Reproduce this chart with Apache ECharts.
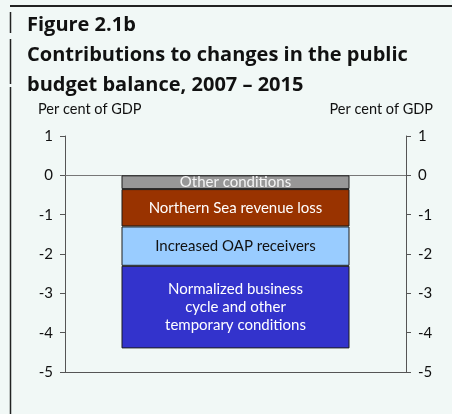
<!DOCTYPE html>
<html>
<head>
<meta charset="utf-8">
<script src="https://cdn.jsdelivr.net/npm/echarts@6/dist/echarts.min.js"></script>
<style>
  html, body { margin: 0; padding: 0; background: #f1f8f6; }
  #chart { width: 452px; height: 414px; }
</style>
</head>
<body>
<div id="chart"></div>
<script>
// Single stacked column: contributions to the change in the public budget balance
const categories = ['2007 – 2015'];
const segmentNames = [
  'Other conditions',
  'Northern Sea revenue loss',
  'Increased OAP receivers',
  'Normalized business cycle and other temporary conditions'
];
const segmentLabels = [
  'Other conditions',
  'Northern Sea revenue loss',
  'Increased OAP receivers',
  'Normalized business\ncycle and other\ntemporary conditions'
];
const segmentValues = [-0.35, -0.95, -1.0, -2.1];
const segmentColors = ['#979797', '#993300', '#99ccff', '#3333cc'];
const segmentTextColors = ['#f4f4f4', '#ffffff', '#111111', '#ffffff'];
const yMin = -5, yMax = 1, yStep = 1;
const unitLabel = 'Per cent of GDP';

const FONT = 'Lato, "Open Sans", sans-serif';
const TITLE_FONT = '"Open Sans", Lato, sans-serif';
const AXIS = '#555555';

const chart = echarts.init(document.getElementById('chart'), null, { renderer: 'canvas' });

function valueAxis(position) {
  return {
    type: 'value',
    position: position,
    min: yMin,
    max: yMax,
    interval: yStep,
    axisLine: { show: true, lineStyle: { color: AXIS, width: 1 } },
    axisTick: { show: true, inside: false, length: 5, lineStyle: { color: AXIS } },
    axisLabel: { color: '#111', fontFamily: FONT, fontSize: 15, margin: 12 },
    splitLine: { show: false }
  };
}

const series = segmentValues.map((v, i) => ({
  name: segmentNames[i],
  type: 'bar',
  stack: 'total',
  yAxisIndex: 0,
  barWidth: 228,
  data: [v],
  itemStyle: { color: segmentColors[i], borderColor: '#1c1c1c', borderWidth: 1 },
  label: {
    show: true,
    position: 'inside',
    formatter: segmentLabels[i],
    color: segmentTextColors[i],
    fontFamily: FONT,
    fontSize: 15,
    lineHeight: 18
  },
  z: 3
}));

// zero reference line across the plot
series[0].markLine = {
  silent: true,
  symbol: ['none', 'none'],
  label: { show: false },
  lineStyle: { color: '#777', width: 1, type: 'solid' },
  data: [{ yAxis: 0 }],
  z: 1
};

chart.setOption({
  animation: false,
  backgroundColor: '#f1f8f6',
  title: {
    text: 'Figure 2.1b\nContributions to changes in the public\nbudget balance, 2007 – 2015',
    left: 27,
    top: 10,
    padding: 0,
    textStyle: {
      fontFamily: TITLE_FONT,
      fontWeight: 'bold',
      fontSize: 20,
      lineHeight: 30,
      color: '#111'
    }
  },
  grid: { left: 65, right: 46, top: 136, bottom: 42, containLabel: false },
  xAxis: {
    type: 'category',
    data: categories,
    axisLine: { show: true, onZero: false, lineStyle: { color: AXIS, width: 1 } },
    axisTick: { show: false },
    axisLabel: { show: false }
  },
  yAxis: [valueAxis('left'), valueAxis('right')],
  series: series,
  graphic: [
    // frame rules
    { type: 'line', shape: { x1: 10, y1: 6, x2: 452, y2: 6 }, style: { stroke: '#222', lineWidth: 2 } },
    { type: 'line', shape: { x1: 10.5, y1: 12, x2: 10.5, y2: 33 }, style: { stroke: '#222', lineWidth: 1.5 } },
    { type: 'line', shape: { x1: 10.5, y1: 39, x2: 10.5, y2: 84 }, style: { stroke: '#222', lineWidth: 1.5 } },
    { type: 'line', shape: { x1: 10.5, y1: 87, x2: 10.5, y2: 414 }, style: { stroke: '#222', lineWidth: 1.5 } },
    // unit captions above each axis
    { type: 'text', left: 38, top: 102, style: { text: unitLabel, font: '14.5px ' + FONT, fill: '#111' } },
    { type: 'text', right: 19, top: 102, style: { text: unitLabel, font: '14.5px ' + FONT, fill: '#111', textAlign: 'right' } }
  ]
});
</script>
</body>
</html>
